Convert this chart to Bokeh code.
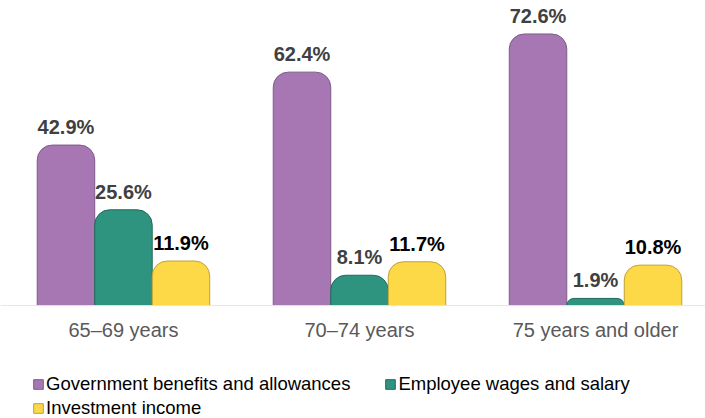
from bokeh.plotting import figure
from bokeh.models import Range1d, Legend, LegendItem, ColumnDataSource, Span
from bokeh.core.properties import value
from bokeh.embed import file_html
from bokeh.resources import INLINE

# Income sources by age group (percent)
groups = ["65–69 years", "70–74 years", "75 years and older"]
series = ["Government benefits and allowances", "Employee wages and salary", "Investment income"]
government = [42.9, 62.4, 72.6]
wages = [25.6, 8.1, 1.9]
investment = [11.9, 11.7, 10.8]

fills = ["#A777B4", "#2E9480", "#FDD947"]
edges = ["#7D5A89", "#1F6A5B", "#BFA134"]
label_colors = ["#404040", "#404040", "#000000"]

FONT = "Liberation Sans"
BAR_W = 0.2436
offsets = [-BAR_W, 0.0, BAR_W]

p = figure(
    width=705, height=418,
    x_range=Range1d(-0.521, 2.466),
    y_range=Range1d(-30.2, 81.55),
    output_backend="svg", toolbar_location=None,
    min_border=0, min_border_left=0, min_border_right=0,
    min_border_top=0, min_border_bottom=0,
)
p.xaxis.visible = False
p.yaxis.visible = False
p.grid.visible = False
p.outline_line_color = None
p.background_fill_color = "white"
p.border_fill_color = "white"

# baseline
p.add_layout(Span(location=0, dimension="width", line_color="#E6E6E6", line_width=1))

renderers = []
for k, vals in enumerate([government, wages, investment]):
    xs = [i + offsets[k] for i in range(len(groups))]
    src = ColumnDataSource(dict(x=xs, top=vals, lbl=[f"{v:.1f}%" for v in vals]))
    r = p.vbar(x="x", top="top", bottom=0, width=BAR_W, source=src,
               fill_color=fills[k], line_color=edges[k], line_width=1,
               border_radius=(15, 15, 0, 0))
    renderers.append(r)
    p.text(x="x", y="top", text="lbl", source=src,
           text_align="center", text_baseline="alphabetic", y_offset=-18,
           text_font=value(FONT), text_font_style="bold",
           text_font_size="20px", text_color=label_colors[k])

# category labels under each group
cat = ColumnDataSource(dict(x=list(range(len(groups))), y=[0] * len(groups), t=groups))
p.text(x="x", y="y", text="t", source=cat, text_align="center",
       text_baseline="middle", y_offset=24, text_font=value(FONT),
       text_font_size="20px", text_color="#595959")

def make_legend(items, loc):
    lg = Legend(items=items, location=loc, orientation="horizontal",
                spacing=34, padding=0, margin=0,
                glyph_width=12, glyph_height=12, label_standoff=2,
                label_height=20,
                label_text_font=FONT, label_text_font_size="18.5px",
                label_text_color="#000000",
                background_fill_alpha=0, border_line_alpha=0)
    p.add_layout(lg, "center")
    return lg

make_legend([LegendItem(label=series[0], renderers=[renderers[0]]),
             LegendItem(label=series[1], renderers=[renderers[1]])], (32, 23))
make_legend([LegendItem(label=series[2], renderers=[renderers[2]])], (32, -1))

open("out.html", "w").write(file_html(p, INLINE))
